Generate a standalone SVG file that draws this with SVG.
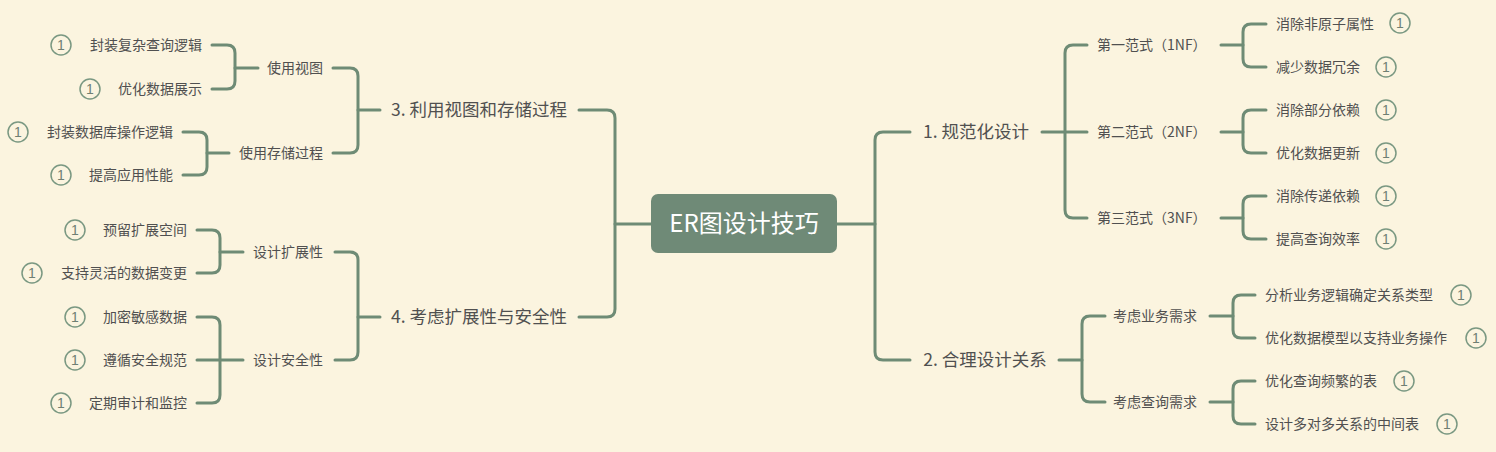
<svg xmlns="http://www.w3.org/2000/svg" width="1496" height="452" viewBox="0 0 1496 452">
<style>
.bg{fill:#FBF4DF}
.ln{fill:none;stroke:#6E8B75;stroke-width:3;stroke-linecap:round;stroke-linejoin:round}
text{font-family:"Noto Sans CJK SC","Noto Sans",sans-serif;fill:#505050}
.t18{font-size:17.5px}
.t14{font-size:14px}
.root{font-size:24px;fill:#FFFFFF}
.e{text-anchor:end}
.m{text-anchor:middle}
.icc{fill:none;stroke:#7A9882;stroke-width:1.5}
.ict{font-family:"Liberation Sans",sans-serif;font-size:14px;fill:#6F7F73;text-anchor:middle}
</style>
<defs>
<g id="one"><circle class="icc" cx="0" cy="0" r="10"/><text class="ict" x="0" y="5">1</text></g>
</defs>
<rect class="bg" x="0" y="0" width="1496" height="452"/>
<g id="connectors">
<path class="ln" d="M651 224 H615"/>
<path class="ln" d="M579 110 H607 Q615 110 615 118 V309 Q615 317 607 317 H579"/>
<path class="ln" d="M837 224 H875"/>
<path class="ln" d="M910 132 H883 Q875 132 875 140 V352 Q875 360 883 360 H910"/>
<path class="ln" d="M380 110 H358"/>
<path class="ln" d="M333 68 H350 Q358 68 358 76 V145 Q358 153 350 153 H333"/>
<path class="ln" d="M258 68 H235"/>
<path class="ln" d="M212 45 H227 Q235 45 235 53 V81 Q235 89 227 89 H212"/>
<path class="ln" d="M229 153 H207"/>
<path class="ln" d="M183 132 H199 Q207 132 207 140 V167 Q207 175 199 175 H183"/>
<path class="ln" d="M380 317 H358"/>
<path class="ln" d="M335 252 H350 Q358 252 358 260 V352 Q358 360 350 360 H335"/>
<path class="ln" d="M243 252 H220"/>
<path class="ln" d="M197 230 H212 Q220 230 220 238 V265 Q220 273 212 273 H197"/>
<path class="ln" d="M243 360 H197"/>
<path class="ln" d="M197 317 H212 Q220 317 220 325 V395 Q220 403 212 403 H197"/>
<path class="ln" d="M1042 132 H1087"/>
<path class="ln" d="M1087 45 H1073 Q1065 45 1065 53 V210 Q1065 218 1073 218 H1087"/>
<path class="ln" d="M1221 45 H1243"/>
<path class="ln" d="M1266 24 H1251 Q1243 24 1243 32 V59 Q1243 67 1251 67 H1266"/>
<path class="ln" d="M1221 132 H1243"/>
<path class="ln" d="M1266 110 H1251 Q1243 110 1243 118 V145 Q1243 153 1251 153 H1266"/>
<path class="ln" d="M1221 218 H1243"/>
<path class="ln" d="M1266 196 H1251 Q1243 196 1243 204 V231 Q1243 239 1251 239 H1266"/>
<path class="ln" d="M1059 360 H1082"/>
<path class="ln" d="M1105 316 H1090 Q1082 316 1082 324 V394 Q1082 402 1090 402 H1105"/>
<path class="ln" d="M1210 316 H1233"/>
<path class="ln" d="M1255 295 H1241 Q1233 295 1233 303 V330 Q1233 338 1241 338 H1255"/>
<path class="ln" d="M1210 402 H1233"/>
<path class="ln" d="M1255 381 H1241 Q1233 381 1233 389 V416 Q1233 424 1241 424 H1255"/>
</g>
<g id="root"><rect x="651" y="194" width="186" height="59" rx="7" fill="#6F8A77"/><text class="root m" x="744" y="232">ER图设计技巧</text></g>
<g id="n3"><text class="t18 m" x="479" y="116">3. 利用视图和存储过程</text></g>
<g id="n4"><text class="t18 m" x="479" y="323">4. 考虑扩展性与安全性</text></g>
<g id="n1"><text class="t18 m" x="976" y="138">1. 规范化设计</text></g>
<g id="n2"><text class="t18 m" x="985" y="366">2. 合理设计关系</text></g>
<g id="n3a"><text class="t14 e" x="323" y="73">使用视图</text></g>
<g id="n3b"><text class="t14 e" x="323" y="158">使用存储过程</text></g>
<g id="n4a"><text class="t14 e" x="323" y="257">设计扩展性</text></g>
<g id="n4b"><text class="t14 e" x="323" y="365">设计安全性</text></g>
<g id="n1a"><text class="t14" x="1097" y="50">第一范式（1NF）</text></g>
<g id="n1b"><text class="t14" x="1097" y="137">第二范式（2NF）</text></g>
<g id="n1c"><text class="t14" x="1097" y="223">第三范式（3NF）</text></g>
<g id="n2a"><text class="t14" x="1113" y="321">考虑业务需求</text></g>
<g id="n2b"><text class="t14" x="1113" y="407">考虑查询需求</text></g>
<g id="l1"><text class="t14 e" x="202" y="50">封装复杂查询逻辑</text><use href="#one" x="61" y="45"/></g>
<g id="l2"><text class="t14 e" x="202" y="94">优化数据展示</text><use href="#one" x="90" y="89"/></g>
<g id="l3"><text class="t14 e" x="173" y="137">封装数据库操作逻辑</text><use href="#one" x="18" y="132"/></g>
<g id="l4"><text class="t14 e" x="173" y="180">提高应用性能</text><use href="#one" x="61" y="175"/></g>
<g id="l5"><text class="t14 e" x="187" y="235">预留扩展空间</text><use href="#one" x="75" y="230"/></g>
<g id="l6"><text class="t14 e" x="187" y="278">支持灵活的数据变更</text><use href="#one" x="32" y="273"/></g>
<g id="l7"><text class="t14 e" x="187" y="322">加密敏感数据</text><use href="#one" x="75" y="317"/></g>
<g id="l8"><text class="t14 e" x="187" y="365">遵循安全规范</text><use href="#one" x="75" y="360"/></g>
<g id="l9"><text class="t14 e" x="187" y="408">定期审计和监控</text><use href="#one" x="61" y="403"/></g>
<g id="r1"><text class="t14" x="1276" y="29">消除非原子属性</text><use href="#one" x="1400" y="23"/></g>
<g id="r2"><text class="t14" x="1276" y="72">减少数据冗余</text><use href="#one" x="1386" y="67"/></g>
<g id="r3"><text class="t14" x="1276" y="115">消除部分依赖</text><use href="#one" x="1386" y="110"/></g>
<g id="r4"><text class="t14" x="1276" y="158">优化数据更新</text><use href="#one" x="1386" y="153"/></g>
<g id="r5"><text class="t14" x="1276" y="201">消除传递依赖</text><use href="#one" x="1386" y="196"/></g>
<g id="r6"><text class="t14" x="1276" y="244">提高查询效率</text><use href="#one" x="1386" y="239"/></g>
<g id="r7"><text class="t14" x="1265" y="300">分析业务逻辑确定关系类型</text><use href="#one" x="1461" y="295"/></g>
<g id="r8"><text class="t14" x="1265" y="343">优化数据模型以支持业务操作</text><use href="#one" x="1476" y="338"/></g>
<g id="r9"><text class="t14" x="1265" y="386">优化查询频繁的表</text><use href="#one" x="1404" y="381"/></g>
<g id="r10"><text class="t14" x="1265" y="429">设计多对多关系的中间表</text><use href="#one" x="1447" y="424"/></g>
</svg>
